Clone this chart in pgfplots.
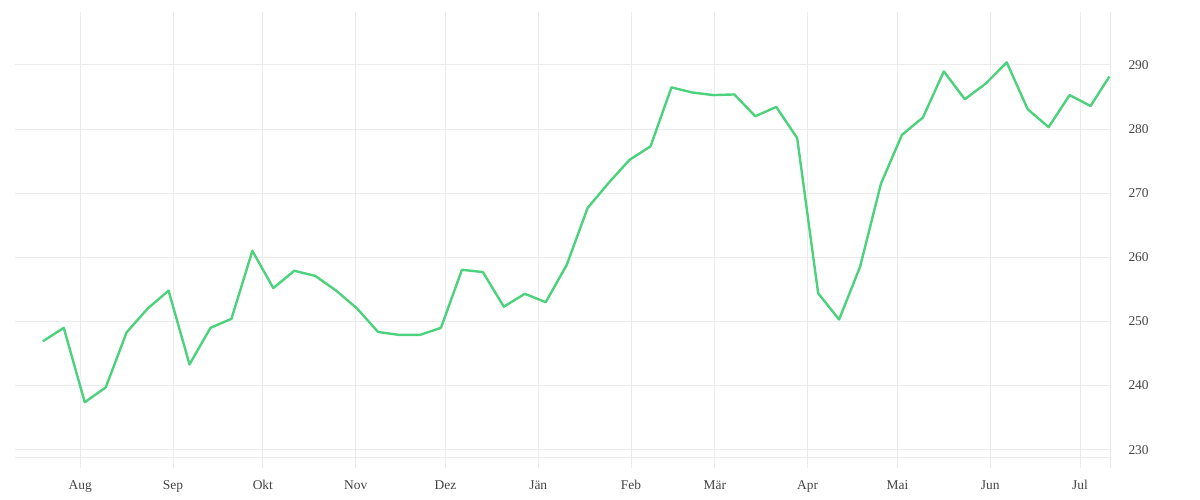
\documentclass[border=0pt]{standalone}
\usepackage{pgfplots}
\pgfplotsset{compat=1.18}
\usepackage{fontspec}
\setmainfont{Liberation Serif}
\definecolor{gridc}{HTML}{EBEBEB}
\definecolor{linec}{HTML}{4CD27C}
\definecolor{textc}{HTML}{444444}
\begin{document}
\begin{tikzpicture}[x=1bp,y=1bp]
\path[use as bounding box] (0,0) rectangle (1200,500);
\begin{axis}[at={(15bp,42bp)}, anchor=south west, scale only axis,
  width=1095bp, height=446bp,
  xmin=-21.8, xmax=344, ymin=228.7, ymax=298.26,
  axis x line*=bottom, axis y line*=right,
  axis line style={gridc, line width=1bp, -},
  xtick={0,31,61,92,122,153,184,212,243,273,304,334},
  xticklabels={Aug,Sep,Okt,Nov,Dez,Jän,Feb,Mär,Apr,Mai,Jun,Jul},
  extra x ticks={344}, extra x tick labels={},
  ytick={230,240,...,290},
  grid=major, major grid style={gridc, line width=1bp},
  tick align=outside,
  xtick style={gridc, line width=1bp},
  ytick style={draw=none},
  major tick length=10bp,
  yticklabel pos=right,
  /pgf/number format/assume math mode=true,
  ticklabel style={font=\fontsize{13.5}{14}\selectfont, text=textc},
  yticklabel style={anchor=west, xshift=5bp},
  xticklabel style={yshift=-9bp},
  clip=false,
]
\addplot[linec, line width=2.4bp, line join=round] coordinates {
(-12.5,246.9) (-5.5,249.0) (1.5,237.4) (8.5,239.7) (15.5,248.3) (22.5,252.0)
(29.5,254.8) (36.5,243.3) (43.5,249.0) (50.5,250.4) (57.5,261.0) (64.5,255.2)
(71.5,257.9) (78.5,257.1) (85.5,254.8) (92.5,252.0) (99.5,248.35) (106.5,247.9)
(113.5,247.9) (120.5,249.0) (127.5,258.05) (134.5,257.7) (141.5,252.3) (148.5,254.3)
(155.5,253.0) (162.5,258.8) (169.5,267.7) (176.5,271.6) (183.5,275.2) (190.5,277.3)
(197.5,286.5) (204.5,285.7) (211.5,285.3) (218.5,285.4) (225.5,282.0) (232.5,283.45)
(239.5,278.6) (246.5,254.4) (253.5,250.3) (260.5,258.5) (267.5,271.5) (274.5,279.1)
(281.5,281.8) (288.5,289.0) (295.5,284.65) (302.5,287.1) (309.5,290.4) (316.5,283.1)
(323.5,280.3) (330.5,285.3) (337.5,283.6) (343.8,288.2)
};
\end{axis}
\end{tikzpicture}
\end{document}
